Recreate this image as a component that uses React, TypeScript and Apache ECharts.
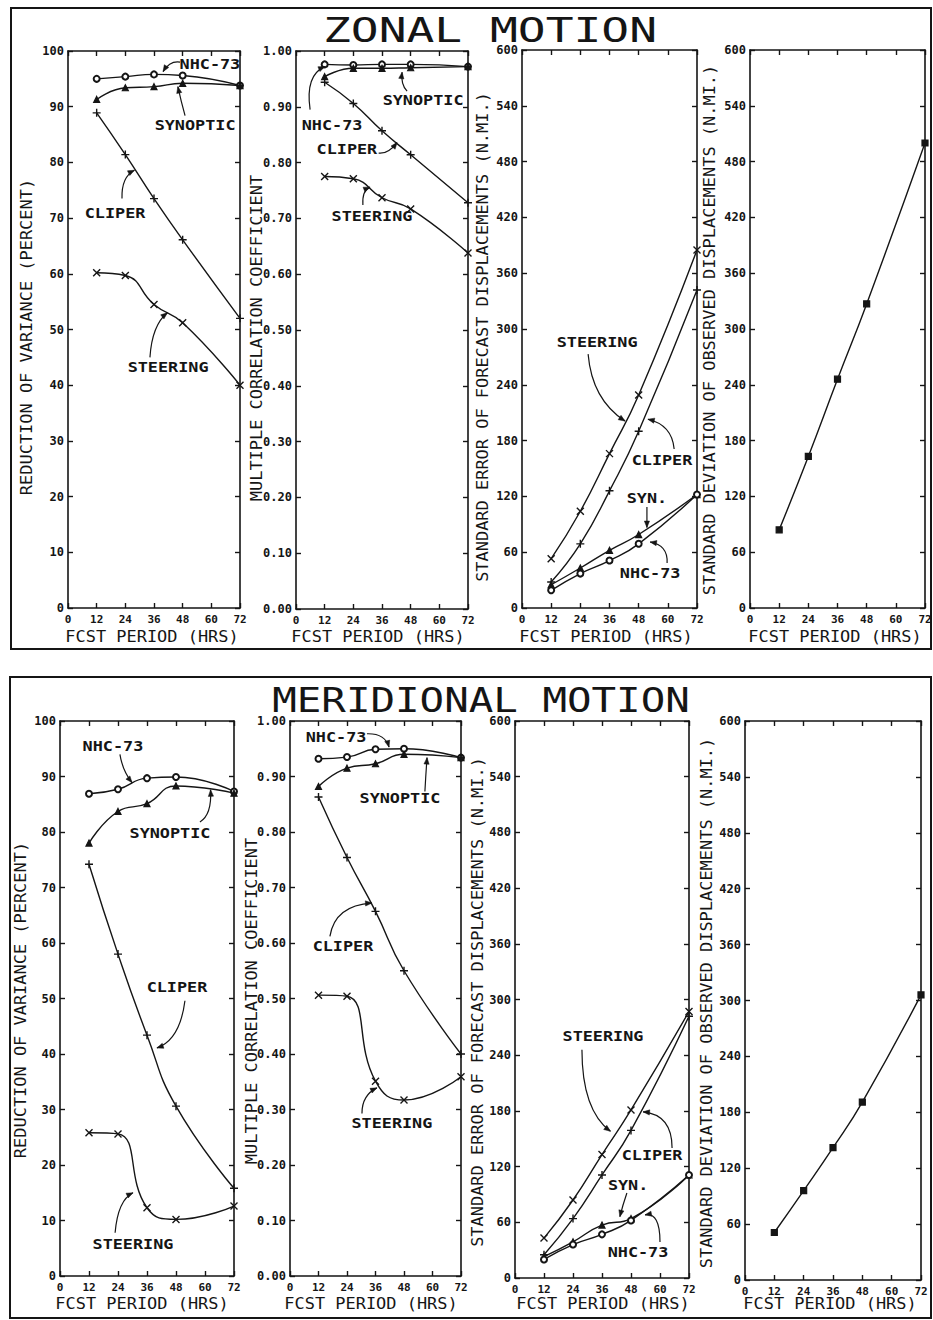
import React, { useEffect, useRef } from "react";
import * as echarts from "echarts";

// ---------- data ----------
const HOURS = [12, 24, 36, 48, 72];
const X_TICKS = [0, 12, 24, 36, 48, 60, 72];

// Zonal motion
const Z_RV_NHC = [95.0, 95.4, 95.8, 95.6, 93.8];
const Z_RV_SYN = [91.3, 93.4, 93.6, 94.2, 93.8];
const Z_RV_CLI = [88.9, 81.4, 73.5, 66.1, 52.0];
const Z_RV_STE = [60.2, 59.7, 54.5, 51.2, 40.0];

const Z_MCC_NHC = [0.976, 0.975, 0.976, 0.976, 0.972];
const Z_MCC_SYN = [0.954, 0.969, 0.969, 0.970, 0.972];
const Z_MCC_CLI = [0.944, 0.906, 0.857, 0.814, 0.728];
const Z_MCC_STE = [0.775, 0.771, 0.737, 0.717, 0.638];

const Z_SE_STE = [53, 104, 166, 229, 385];
const Z_SE_CLI = [28, 69, 126, 190, 342];
const Z_SE_SYN = [25, 43, 62, 79, 122];
const Z_SE_NHC = [19, 37, 51, 69, 122];

const Z_SD_OBS = [84, 163, 246, 327, 500];

// Meridional motion
const M_RV_NHC = [86.9, 87.7, 89.7, 89.9, 87.3];
const M_RV_SYN = [78.0, 83.7, 85.1, 88.3, 87.0];
const M_RV_CLI = [74.2, 58.0, 43.4, 30.6, 15.8];
const M_RV_STE = [25.8, 25.6, 12.3, 10.2, 12.6];

const M_MCC_NHC = [0.932, 0.935, 0.949, 0.950, 0.934];
const M_MCC_SYN = [0.882, 0.915, 0.923, 0.940, 0.934];
const M_MCC_CLI = [0.863, 0.754, 0.657, 0.550, 0.400];
const M_MCC_STE = [0.506, 0.504, 0.351, 0.317, 0.359];

const M_SE_STE = [43, 84, 133, 181, 287];
const M_SE_CLI = [25, 64, 111, 159, 282];
const M_SE_SYN = [23, 39, 57, 64, 111];
const M_SE_NHC = [20, 36, 47, 62, 111];

const M_SD_OBS = [51, 96, 142, 191, 306];

const RV_TICKS = { min: 0, max: 100, step: 10, digits: 0 };
const MCC_TICKS = { min: 0, max: 1, step: 0.1, digits: 2 };
const DISP_TICKS = { min: 0, max: 600, step: 60, digits: 0 };

const Y_NAMES = [
  "REDUCTION OF VARIANCE (PERCENT)",
  "MULTIPLE CORRELATION COEFFICIENT",
  "STANDARD ERROR OF FORECAST DISPLACEMENTS (N.MI.)",
  "STANDARD DEVIATION OF OBSERVED DISPLACEMENTS (N.MI.)",
];
const X_NAME = "FCST PERIOD (HRS)";
const TITLES = ["ZONAL MOTION", "MERIDIONAL MOTION"];

// ---------- layout / style ----------
const FONT = '"DejaVu Sans Mono", monospace';
const INK = "#151515";

const GRIDS = [
  { left: 68, top: 51, width: 172, height: 557 },
  { left: 296, top: 51, width: 172, height: 558 },
  { left: 522, top: 50, width: 175, height: 558 },
  { left: 750, top: 50, width: 175, height: 558 },
  { left: 60, top: 721, width: 174, height: 555 },
  { left: 290, top: 721, width: 171, height: 555 },
  { left: 515, top: 721, width: 174, height: 557 },
  { left: 745, top: 721, width: 176, height: 559 },
];
const GRID_TICKS = [RV_TICKS, MCC_TICKS, DISP_TICKS, DISP_TICKS, RV_TICKS, MCC_TICKS, DISP_TICKS, DISP_TICKS];

const PANEL_FRAMES = [
  { x: 11, y: 8, w: 920, h: 641 },
  { x: 10, y: 677, w: 921, h: 641 },
];
const TITLE_POS = [
  { x: 490, y: 30, sx: 1.36, size: 34 },
  { x: 481, y: 700, sx: 1.2, size: 34 },
];
const Y_NAME_POS = [[27, 337], [257, 338], [483, 337], [710, 330], [21, 1000], [252, 1001], [478, 1002], [707, 1003]];
const X_NAME_POS = [[152, 637], [378, 637], [606, 637], [835, 637], [142, 1304], [371, 1304], [603, 1304], [830, 1304]];

const SYM: Record<string, { symbol: string; size: number }> = {
  nhc: { symbol: "emptyCircle", size: 6 },
  syn: { symbol: "triangle", size: 6 },
  cli: { symbol: "path://M0,5L10,5M5,0L5,10", size: 8 },
  ste: { symbol: "path://M0,0L10,10M10,0L0,10", size: 7 },
  obs: { symbol: "rect", size: 6 },
};

const SERIES_DEFS: { grid: number; data: number[]; sym: string }[] = [
  { grid: 0, data: Z_RV_NHC, sym: "nhc" },
  { grid: 0, data: Z_RV_SYN, sym: "syn" },
  { grid: 0, data: Z_RV_CLI, sym: "cli" },
  { grid: 0, data: Z_RV_STE, sym: "ste" },
  { grid: 1, data: Z_MCC_NHC, sym: "nhc" },
  { grid: 1, data: Z_MCC_SYN, sym: "syn" },
  { grid: 1, data: Z_MCC_CLI, sym: "cli" },
  { grid: 1, data: Z_MCC_STE, sym: "ste" },
  { grid: 2, data: Z_SE_STE, sym: "ste" },
  { grid: 2, data: Z_SE_CLI, sym: "cli" },
  { grid: 2, data: Z_SE_SYN, sym: "syn" },
  { grid: 2, data: Z_SE_NHC, sym: "nhc" },
  { grid: 3, data: Z_SD_OBS, sym: "obs" },
  { grid: 4, data: M_RV_NHC, sym: "nhc" },
  { grid: 4, data: M_RV_SYN, sym: "syn" },
  { grid: 4, data: M_RV_CLI, sym: "cli" },
  { grid: 4, data: M_RV_STE, sym: "ste" },
  { grid: 5, data: M_MCC_NHC, sym: "nhc" },
  { grid: 5, data: M_MCC_SYN, sym: "syn" },
  { grid: 5, data: M_MCC_CLI, sym: "cli" },
  { grid: 5, data: M_MCC_STE, sym: "ste" },
  { grid: 6, data: M_SE_STE, sym: "ste" },
  { grid: 6, data: M_SE_CLI, sym: "cli" },
  { grid: 6, data: M_SE_SYN, sym: "syn" },
  { grid: 6, data: M_SE_NHC, sym: "nhc" },
  { grid: 7, data: M_SD_OBS, sym: "obs" },
];

// annotation label + arrow, in each grid's data coordinates
const ANNOTATIONS: { grid: number; text: string; at: number[]; from: number[]; ctrl: number[]; to: number[] }[] = [
  { grid: 0, text: "NHC-73", at: [59.4, 97.5], from: [46.9, 98.0], ctrl: [42.7, 98.3], to: [39.8, 96.3] },
  { grid: 0, text: "SYNOPTIC", at: [53.2, 86.7], from: [49.0, 88.4], ctrl: [47.3, 91.0], to: [46.0, 93.6] },
  { grid: 0, text: "CLIPER", at: [19.7, 70.9], from: [22.6, 73.5], ctrl: [22.3, 77.4], to: [27.8, 78.6] },
  { grid: 0, text: "STEERING", at: [41.9, 43.1], from: [34.3, 45.0], ctrl: [35.2, 50.8], to: [41.6, 53.0] },
  { grid: 1, text: "NHC-73", at: [15.1, 0.867], from: [5.9, 0.895], ctrl: [3.8, 0.957], to: [12.1, 0.972] },
  { grid: 1, text: "SYNOPTIC", at: [53.2, 0.912], from: [46.5, 0.928], ctrl: [43.8, 0.94], to: [44.4, 0.962] },
  { grid: 1, text: "CLIPER", at: [21.3, 0.823], from: [34.6, 0.817], ctrl: [38.5, 0.815], to: [42.3, 0.836] },
  { grid: 1, text: "STEERING", at: [31.8, 0.703], from: [28.0, 0.724], ctrl: [27.6, 0.75], to: [31.0, 0.756] },
  { grid: 2, text: "STEERING", at: [30.9, 285], from: [27.2, 273], ctrl: [28.8, 224], to: [42.4, 201] },
  { grid: 2, text: "CLIPER", at: [57.6, 159], from: [62.6, 171], ctrl: [61.7, 197], to: [51.8, 203] },
  { grid: 2, text: "SYN.", at: [51.4, 118], from: [51.4, 108.5], ctrl: [51.4, 97], to: [51.4, 86.5] },
  { grid: 2, text: "NHC-73", at: [52.7, 37.6], from: [59.7, 48.4], ctrl: [60.1, 67.7], to: [52.7, 71] },
  { grid: 4, text: "NHC-73", at: [21.9, 95.5], from: [24.8, 94.0], ctrl: [25.9, 91.0], to: [29.8, 88.9] },
  { grid: 4, text: "SYNOPTIC", at: [45.5, 79.8], from: [57.9, 81.8], ctrl: [62.9, 83.1], to: [62.3, 87.6] },
  { grid: 4, text: "CLIPER", at: [48.4, 51.9], from: [51.7, 49.6], ctrl: [49.6, 42.5], to: [40.1, 41.1] },
  { grid: 4, text: "STEERING", at: [30.2, 5.6], from: [22.8, 7.8], ctrl: [24.0, 13.7], to: [30.2, 15.0] },
  { grid: 5, text: "NHC-73", at: [19.4, 0.971], from: [32.4, 0.977], ctrl: [40.0, 0.978], to: [41.7, 0.953] },
  { grid: 5, text: "SYNOPTIC", at: [46.3, 0.861], from: [56.8, 0.873], ctrl: [57.2, 0.905], to: [57.7, 0.934] },
  { grid: 5, text: "CLIPER", at: [22.3, 0.593], from: [16.8, 0.612], ctrl: [18.9, 0.668], to: [34.5, 0.672] },
  { grid: 5, text: "STEERING", at: [42.9, 0.274], from: [30.3, 0.293], ctrl: [30.3, 0.326], to: [36.6, 0.339] },
  { grid: 6, text: "STEERING", at: [36.4, 260], from: [27.7, 246], ctrl: [27.7, 181], to: [39.5, 158] },
  { grid: 6, text: "CLIPER", at: [56.7, 132.5], from: [65, 140], ctrl: [65, 176], to: [53, 179] },
  { grid: 6, text: "SYN.", at: [46.8, 100], from: [46.3, 91.6], ctrl: [44.5, 78], to: [43.4, 66] },
  { grid: 6, text: "NHC-73", at: [50.9, 27], from: [60, 38.8], ctrl: [60, 71], to: [53.8, 68] },
];

// ---------- option ----------
function axisBase(show: boolean) {
  return {
    axisLine: { show: true, onZero: false, lineStyle: { color: INK, width: 1.6 } },
    axisTick: { show: true, inside: true, length: 5, lineStyle: { color: INK, width: 1.4 } },
    splitLine: { show: false },
    axisLabel: show
      ? { show: true, fontFamily: FONT, fontWeight: "bold", fontSize: 12, color: INK }
      : { show: false },
    silent: true,
  };
}

function buildOption() {
  const xAxis: any[] = [];
  const yAxis: any[] = [];
  GRIDS.forEach((_, g) => {
    const t = GRID_TICKS[g];
    const xmin = X_TICKS[0];
    const xmax = X_TICKS[X_TICKS.length - 1];
    const xint = X_TICKS[1] - X_TICKS[0];
    const xb = axisBase(true);
    xAxis.push({
      ...xb, type: "value", gridIndex: g, position: "bottom", min: xmin, max: xmax, interval: xint,
      axisLabel: { ...xb.axisLabel, fontSize: 11, margin: 6 },
    });
    xAxis.push({ ...axisBase(false), type: "value", gridIndex: g, position: "top", min: xmin, max: xmax, interval: xint });
    const yb = axisBase(true);
    yAxis.push({
      ...yb, type: "value", gridIndex: g, position: "left", min: t.min, max: t.max, interval: t.step,
      axisLabel: { ...yb.axisLabel, margin: 4, formatter: (v: number) => v.toFixed(t.digits) },
    });
    yAxis.push({ ...axisBase(false), type: "value", gridIndex: g, position: "right", min: t.min, max: t.max, interval: t.step });
  });

  const series = SERIES_DEFS.map((s) => ({
    type: "line",
    xAxisIndex: 2 * s.grid,
    yAxisIndex: 2 * s.grid,
    data: HOURS.map((h, i) => [h, s.data[i]]),
    smooth: 0.5,
    symbol: SYM[s.sym].symbol,
    symbolSize: SYM[s.sym].size,
    showAllSymbol: true,
    clip: false,
    lineStyle: { color: INK, width: 1.4 },
    itemStyle: {
      color: INK,
      borderColor: INK,
      borderWidth: s.sym === "cli" || s.sym === "ste" ? 1.4 : 1.2,
    },
    emphasis: { disabled: true },
    silent: true,
    z: 3,
  }));

  return {
    animation: false,
    backgroundColor: "#ffffff",
    grid: GRIDS.map((g) => ({ ...g, containLabel: false, outerBoundsMode: "none", show: false })),
    xAxis,
    yAxis,
    series,
  };
}

function textEl(text: string, x: number, y: number, size: number, weight: string, scaleX: number, rotation = 0) {
  return {
    type: "text",
    x,
    y,
    rotation,
    scaleX,
    silent: true,
    z: 10,
    style: {
      text,
      fill: INK,
      fontFamily: FONT,
      fontSize: size,
      fontWeight: weight,
      align: "center",
      verticalAlign: "middle",
      textAlign: "center",
      textVerticalAlign: "middle",
    },
  };
}

function buildGraphics(chart: any) {
  const els: any[] = [];
  PANEL_FRAMES.forEach((f) =>
    els.push({
      type: "rect",
      silent: true,
      shape: { x: f.x, y: f.y, width: f.w, height: f.h },
      style: { fill: "none", stroke: INK, lineWidth: 2 },
    })
  );
  TITLES.forEach((t, i) => {
    const p = TITLE_POS[i];
    els.push(textEl(t, p.x, p.y, p.size, "normal", p.sx));
  });
  GRIDS.forEach((_, g) => {
    const yn = Y_NAMES[g % 4];
    const yp = Y_NAME_POS[g];
    els.push(textEl(yn, yp[0], yp[1], 15, "normal", 1.13, Math.PI / 2));
    const xp = X_NAME_POS[g];
    els.push(textEl(X_NAME, xp[0], xp[1], 15, "normal", 1.13));
  });
  ANNOTATIONS.forEach((a) => {
    const finder = { xAxisIndex: 2 * a.grid, yAxisIndex: 2 * a.grid };
    const P = (p: number[]) => chart.convertToPixel(finder, p) as number[];
    const t = P(a.at);
    const s = P(a.from);
    const c = P(a.ctrl);
    const e = P(a.to);
    els.push(textEl(a.text, t[0], t[1], 14, "bold", 1.2));
    els.push({
      type: "bezierCurve",
      silent: true,
      z: 10,
      shape: { x1: s[0], y1: s[1], cpx1: c[0], cpy1: c[1], x2: e[0], y2: e[1] },
      style: { stroke: INK, lineWidth: 1.2, fill: "none" },
    });
    let dx = e[0] - c[0];
    let dy = e[1] - c[1];
    let len = Math.hypot(dx, dy);
    if (len < 0.5) {
      dx = e[0] - s[0];
      dy = e[1] - s[1];
      len = Math.hypot(dx, dy) || 1;
    }
    dx /= len;
    dy /= len;
    const L = 6.5;
    const W = 2.6;
    const bx = e[0] - dx * L;
    const by = e[1] - dy * L;
    els.push({
      type: "polygon",
      silent: true,
      z: 10,
      shape: {
        points: [
          [e[0], e[1]],
          [bx - dy * W, by + dx * W],
          [bx + dy * W, by - dx * W],
        ],
      },
      style: { fill: INK, stroke: INK, lineWidth: 0.5 },
    });
  });
  return els;
}

export default function App() {
  const ref = useRef<HTMLDivElement>(null);
  useEffect(() => {
    document.body.style.margin = "0";
    const chart = echarts.init(ref.current as HTMLDivElement, null, { renderer: "svg" });
    chart.setOption(buildOption() as any);
    chart.setOption({ graphic: buildGraphics(chart) } as any);
    return () => chart.dispose();
  }, []);
  return (
    <div
      ref={ref}
      style={{ position: "absolute", left: 0, top: 0, width: 933, height: 1320, background: "#fff" }}
    />
  );
}
